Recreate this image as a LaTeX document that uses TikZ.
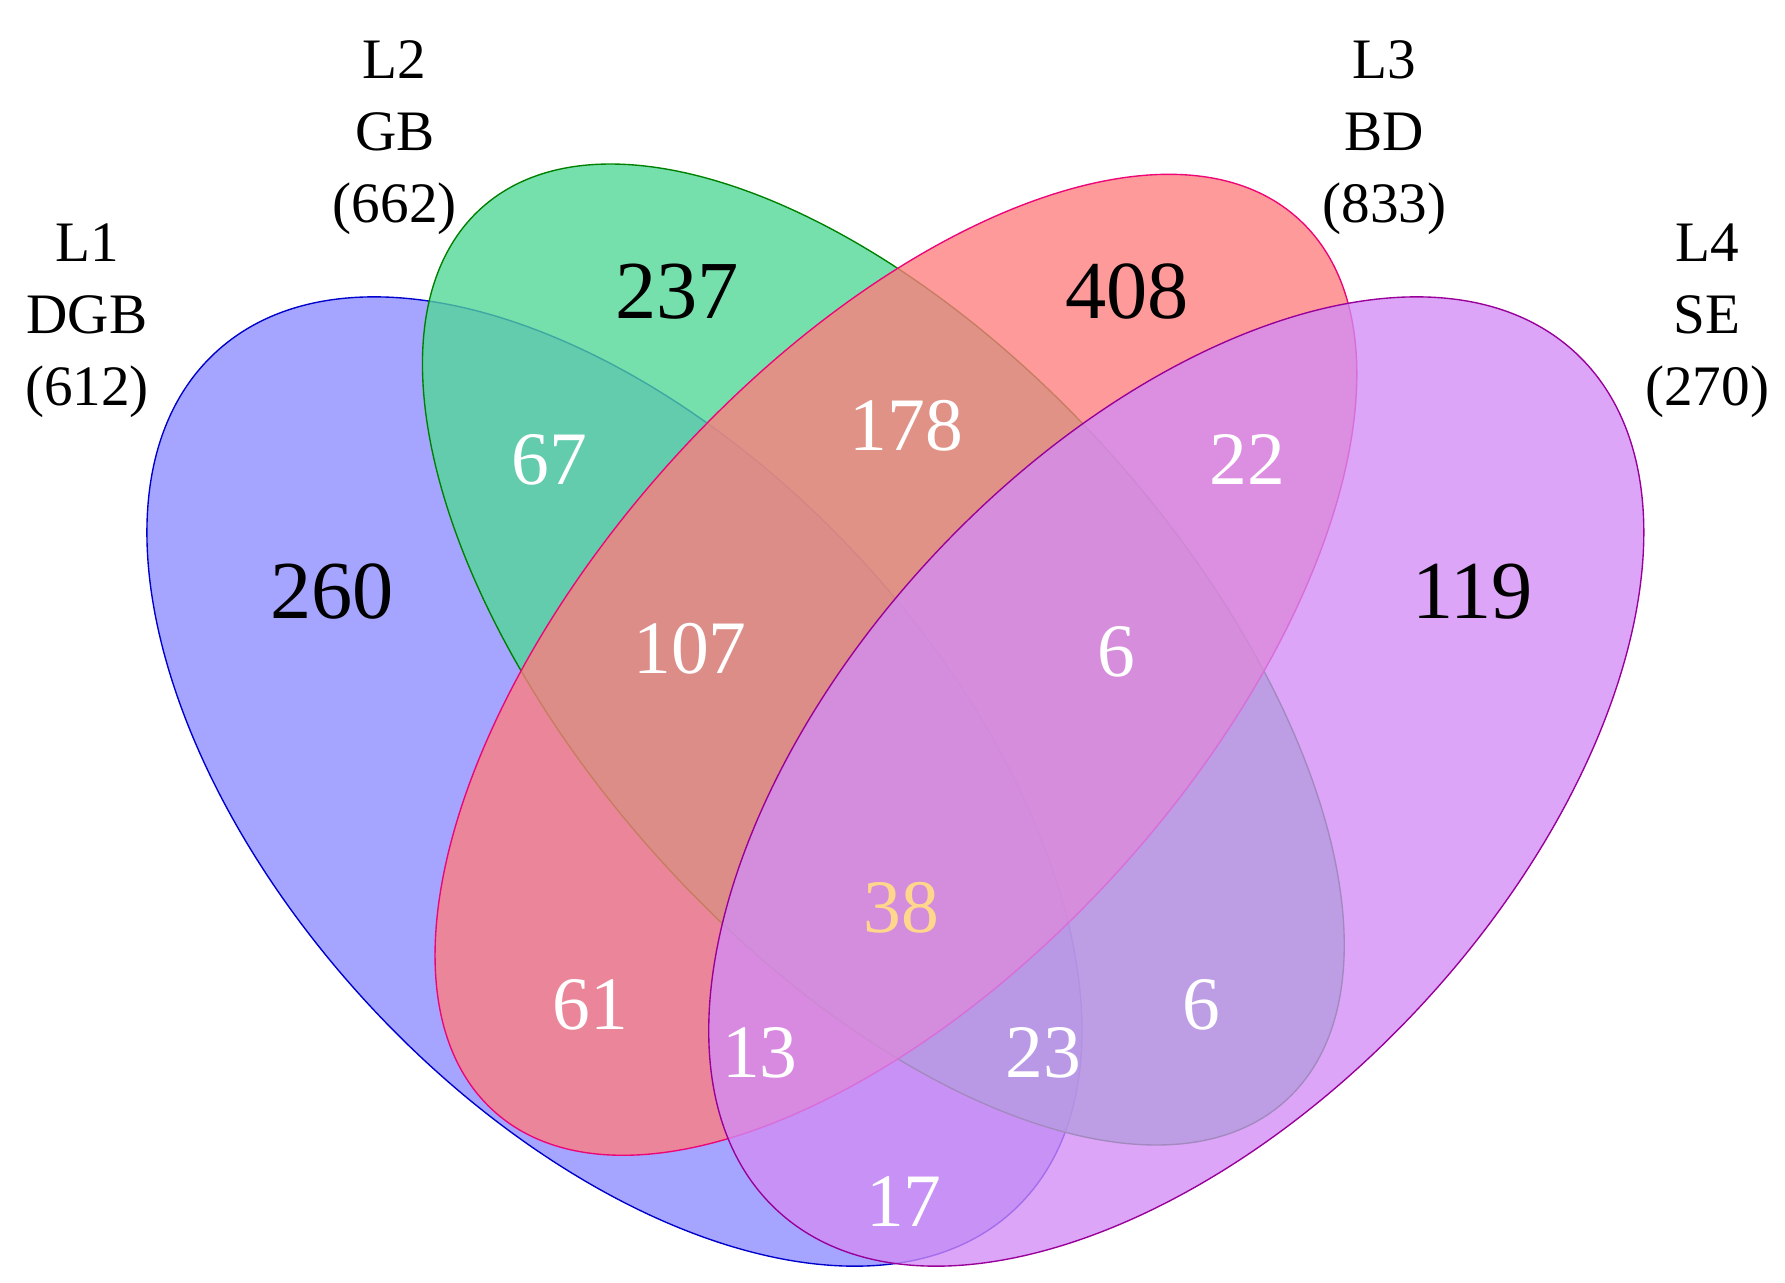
\documentclass[tikz,border=0pt]{standalone}
\usepackage{fontspec}
\setmainfont{Liberation Serif}
\begin{document}
\begin{tikzpicture}[x=1pt,y=-1pt,
  set/.style={fill opacity=0.78},
  big/.style={font=\fontsize{72}{72}\selectfont},
  num/.style={font=\fontsize{66}{66}\selectfont,text=white},
  lab/.style={font=\fontsize{50}{63}\selectfont,align=center}]
\useasboundingbox (0,0) rectangle (1560,1121);
\definecolor{cB}{RGB}{140,140,255}\definecolor{cG}{RGB}{80,215,150}
\definecolor{cR}{RGB}{255,125,125}\definecolor{cP}{RGB}{210,140,245}
\fill[cB,set] [shift={(537,683)},rotate=-47] (0,0) ellipse [x radius=512,y radius=290];
\draw[blue!80!black,line width=1.2pt] [shift={(537,683)},rotate=-47] (0,0) ellipse [x radius=512,y radius=290];
\fill[cG,set] [shift={(772,572)},rotate=-48] (0,0) ellipse [x radius=525,y radius=265];
\draw[green!50!black,line width=1.2pt] [shift={(772,572)},rotate=-48] (0,0) ellipse [x radius=525,y radius=265];
\fill[cR,set] [shift={(783,581)},rotate=48] (0,0) ellipse [x radius=525,y radius=265];
\draw[magenta!80!red,line width=1.2pt] [shift={(783,581)},rotate=48] (0,0) ellipse [x radius=525,y radius=265];
\fill[cP,set] [shift={(1028,683)},rotate=47] (0,0) ellipse [x radius=512,y radius=290];
\draw[violet!80!magenta,line width=1.2pt] [shift={(1028,683)},rotate=47] (0,0) ellipse [x radius=512,y radius=290];
\node[lab] (l1) at (76,280) {L1\\DGB\\(612)};
\node[lab] (l2) at (345,120) {L2\\GB\\(662)};
\node[lab] (l3) at (1210,120) {L3\\BD\\(833)};
\node[lab] (l4) at (1492,280) {L4\\SE\\(270)};
\node[big] (n237) at (592,255) {237};
\node[big] (n408) at (985,255) {408};
\node[big] (n260) at (290,517) {260};
\node[big] (n119) at (1287,517) {119};
\node[num] (n67) at (480,402) {67};
\node[num] (n178) at (792,372) {178};
\node[num] (n22) at (1090,402) {22};
\node[num] (n107) at (603,567) {107};
\node[num] (n6a) at (976,570) {6};
\node[num,text={rgb,255:red,255;green,215;blue,140}] (n38) at (788,793) {38};
\node[num] (n61) at (516,878) {61};
\node[num] (n6b) at (1050,878) {6};
\node[num] (n13) at (664,920) {13};
\node[num] (n23) at (912,920) {23};
\node[num] (n17) at (790,1050) {17};
\end{tikzpicture}
\end{document}
